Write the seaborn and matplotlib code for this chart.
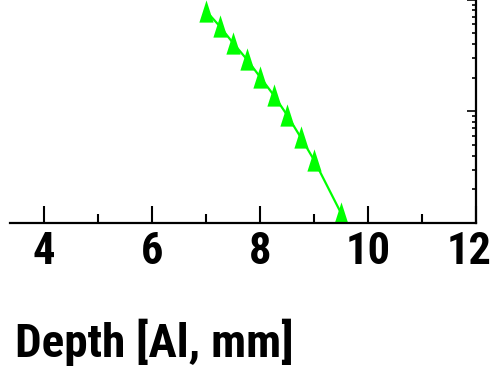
import numpy as np
import seaborn as sns
import matplotlib.pyplot as plt
from matplotlib.ticker import LogLocator, MultipleLocator, NullFormatter
from matplotlib.transforms import ScaledTranslation

# values
depth = [7.0, 7.25, 7.5, 7.75, 8.0, 8.25, 8.5, 8.75, 9.0, 9.5]
value = [79.2, 58.1, 40.9, 29.4, 20.3, 14.0, 9.25, 5.87, 3.65, 1.22]
x_ticks = [4, 6, 8, 10, 12]
x_label = "Depth [Al, mm]"

sns.set_style("white")
plt.rcParams['font.family'] = ['Roboto Condensed', 'Liberation Sans', 'DejaVu Sans']
plt.rcParams['font.weight'] = 'bold'

fig = plt.figure(figsize=(4.94, 3.75), dpi=100)
ax = fig.add_axes([10 / 494, 0.4061, 466 / 494, 0.684])

# narrow triangle marker (the original is squeezed sideways)
tri = [(-0.64, -1), (0.64, -1), (0, 1), (-0.64, -1)]
sns.lineplot(x=depth, y=value, ax=ax, color='#00ff00', lw=1.6,
             marker=tri, markersize=16, markeredgewidth=0,
             markerfacecolor='#00ff00')

ax.set_yscale('log')
ax.set_ylim(1, 10 ** 2.3)
ax.set_xlim(3.37, 12)

for s in ['left', 'top']:
    ax.spines[s].set_visible(False)
for s in ['right', 'bottom']:
    ax.spines[s].set_color('black')
    ax.spines[s].set_linewidth(1.6)

# right log axis, no labels
ax.yaxis.tick_right()
ax.yaxis.set_major_locator(LogLocator(base=10))
ax.yaxis.set_minor_locator(LogLocator(base=10, subs=np.arange(2, 10)))
ax.yaxis.set_major_formatter(NullFormatter())
ax.yaxis.set_minor_formatter(NullFormatter())
ax.tick_params(axis='y', which='major', direction='in', length=6.5, width=1.2,
               color='black', left=False, right=True, labelleft=False, labelright=False)
ax.tick_params(axis='y', which='minor', direction='in', length=3.2, width=1.2,
               color='black', left=False, right=True)

# bottom axis
ax.set_xticks(x_ticks)
ax.xaxis.set_minor_locator(MultipleLocator(1))
ax.tick_params(axis='x', which='major', direction='in', length=12, width=1.5,
               color='black', labelcolor='black', labelsize=32, pad=6,
               bottom=True, top=False)
ax.tick_params(axis='x', which='minor', direction='in', length=6.5, width=1.5,
               color='black', bottom=True, top=False)

# keep the "12" inside the picture
last = ax.get_xticklabels()[-1]
last.set_transform(last.get_transform() + ScaledTranslation(-0.07, 0, fig.dpi_scale_trans))

ax.set_xlabel(x_label, fontsize=34, fontweight='bold', color='black', va='baseline')
ax.xaxis.set_label_coords(0.31, -0.5236)

fig.savefig('out.png', dpi=100)
